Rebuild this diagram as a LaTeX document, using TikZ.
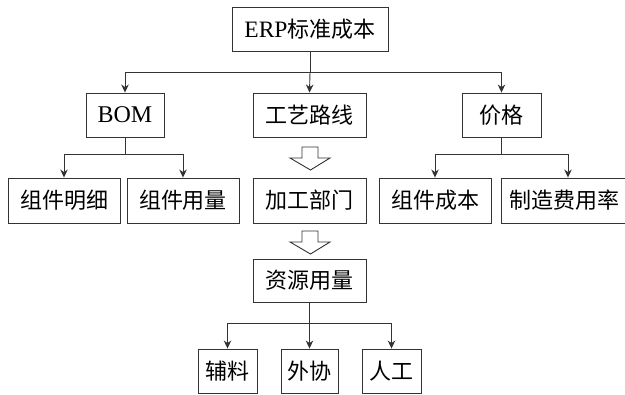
\documentclass[tikz,border=0pt]{standalone}
\usepackage{fontspec}
\setmainfont{Liberation Serif}
\newfontfamily\cjk{Noto Sans CJK SC}
\usetikzlibrary{arrows.meta}
\begin{document}
\begin{tikzpicture}[x=1pt,y=-1pt,
  box/.style={draw=black!80,line width=0.9pt,inner sep=0pt,font=\fontsize{22}{24}\selectfont\cjk},
  conn/.style={draw=black!80,line width=0.9pt,-{Stealth[length=8pt,width=7.5pt,inset=2.5pt]}},
  plain/.style={draw=black!80,line width=0.9pt},
  hollow/.style={draw=black!80,line width=0.9pt,fill=white}]
\useasboundingbox (0,0) rectangle (625,395);
\begin{scope}
\clip (0,0) rectangle (625,395);
\node[box,minimum width=156pt,minimum height=44pt] (erp) at (310,29) {{\fontsize{23.5}{24}\selectfont\rmfamily ERP}标准成本};
\node[box,minimum width=78pt,minimum height=44pt] (bom) at (125,115) {{\fontsize{24}{24}\selectfont\rmfamily BOM}};
\node[box,minimum width=113pt,minimum height=44pt] (gy) at (309.5,115) {工艺路线};
\node[box,minimum width=79pt,minimum height=44pt] (jg) at (501.5,115) {价格};
\node[box,minimum width=112pt,minimum height=45pt] (mx) at (64,200.5) {组件明细};
\node[box,minimum width=112pt,minimum height=45pt] (yl) at (183,200.5) {组件用量};
\node[box,minimum width=113pt,minimum height=45pt] (bm) at (309.5,200.5) {加工部门};
\node[box,minimum width=112pt,minimum height=45pt] (cb) at (435,200.5) {组件成本};
\node[box,minimum width=134pt,minimum height=45pt,text width=134pt,align=left] (fy) at (568,200.5) {\hspace{8pt}制造费用率};
\node[box,minimum width=113pt,minimum height=43pt] (zy) at (309.5,280.5) {资源用量};
\node[box,minimum width=59pt,minimum height=44pt] (fl) at (227.5,371) {辅料};
\node[box,minimum width=57pt,minimum height=44pt] (wx) at (309.5,371) {外协};
\node[box,minimum width=59pt,minimum height=44pt] (rg) at (391.5,371) {人工};
% ERP branches
\draw[plain] (erp.south) -- (310,72) coordinate (e1);
\draw[conn] (e1) -| (bom.north);
\draw[conn] (e1) -| (jg.north);
\draw[conn] (e1) -- (gy.north);
% BOM branches
\draw[plain] (bom.south) -- (125,154) coordinate (b1);
\draw[conn] (b1) -| (mx.north);
\draw[conn] (b1) -| (yl.north);
% price branches
\draw[plain] (jg.south) -- (501.5,154) coordinate (p1);
\draw[conn] (p1) -| (cb.north);
\draw[conn] (p1) -| (fy.north);
% resource branches
\draw[plain] (zy.south) -- (309.5,323) coordinate (r1);
\draw[conn] (r1) -| (fl.north);
\draw[conn] (r1) -| (rg.north);
\draw[conn] (r1) -- (wx.north);
% hollow arrows
\draw[hollow] (302,147) -- (318,147) -- (318,158) -- (330,158) -- (310.5,170) -- (290,158) -- (302,158) -- cycle;
\draw[hollow] (302,231) -- (318,231) -- (318,242) -- (330,242) -- (310.5,254) -- (290,242) -- (302,242) -- cycle;
\end{scope}
\end{tikzpicture}
\end{document}
